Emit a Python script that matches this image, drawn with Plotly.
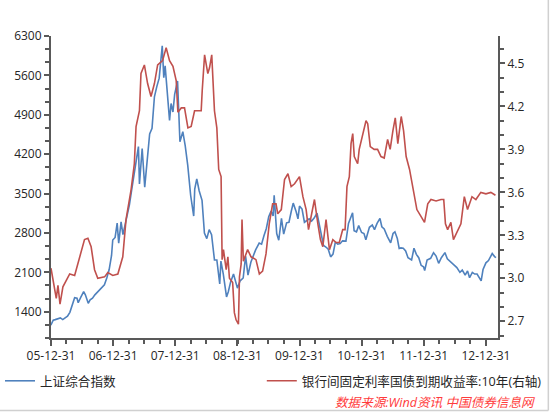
import plotly.graph_objects as go

# 上证综合指数 (left axis)
sh_dates = ['2005-12-30', '2006-01-13', '2006-01-25', '2006-02-10', '2006-02-24', '2006-03-10',
            '2006-03-24', '2006-04-07', '2006-04-21', '2006-05-12', '2006-05-19', '2006-06-02',
            '2006-06-09', '2006-06-23', '2006-07-11', '2006-07-21', '2006-08-07', '2006-08-18',
            '2006-09-01', '2006-09-15', '2006-09-29', '2006-10-13', '2006-10-27', '2006-11-10',
            '2006-11-24', '2006-12-08', '2006-12-22', '2006-12-29', '2007-01-12', '2007-01-24',
            '2007-02-02', '2007-02-16', '2007-02-27', '2007-03-09', '2007-03-23', '2007-04-06',
            '2007-04-20', '2007-05-09', '2007-05-29', '2007-06-04', '2007-06-20', '2007-07-05',
            '2007-07-20', '2007-08-03', '2007-08-17', '2007-08-31', '2007-09-14', '2007-09-28',
            '2007-10-16', '2007-10-25', '2007-11-02', '2007-11-16', '2007-11-28', '2007-12-07',
            '2007-12-18', '2007-12-28', '2008-01-14', '2008-01-28', '2008-02-14', '2008-02-28',
            '2008-03-14', '2008-03-31', '2008-04-18', '2008-04-24', '2008-05-06', '2008-05-20',
            '2008-06-06', '2008-06-20', '2008-07-04', '2008-07-18', '2008-08-01', '2008-08-18',
            '2008-09-01', '2008-09-18', '2008-09-25', '2008-10-09', '2008-10-28', '2008-11-07',
            '2008-11-21', '2008-12-08', '2008-12-23', '2008-12-31', '2009-01-16', '2009-02-03',
            '2009-02-17', '2009-03-03', '2009-03-20', '2009-04-03', '2009-04-17', '2009-05-08',
            '2009-05-22', '2009-06-05', '2009-06-19', '2009-07-03', '2009-07-17', '2009-07-29',
            '2009-08-04', '2009-08-19', '2009-08-31', '2009-09-16', '2009-09-29', '2009-10-16',
            '2009-10-30', '2009-11-13', '2009-11-24', '2009-12-11', '2009-12-22', '2009-12-31',
            '2010-01-15', '2010-01-29', '2010-02-12', '2010-02-26', '2010-03-12', '2010-03-26',
            '2010-04-13', '2010-04-27', '2010-05-14', '2010-05-21', '2010-06-04', '2010-06-18',
            '2010-07-02', '2010-07-16', '2010-07-30', '2010-08-13', '2010-08-27', '2010-09-10',
            '2010-09-30', '2010-10-15', '2010-11-08', '2010-11-17', '2010-12-01', '2010-12-14',
            '2010-12-31', '2011-01-14', '2011-01-25', '2011-02-15', '2011-03-04', '2011-03-17',
            '2011-04-01', '2011-04-18', '2011-04-29', '2011-05-13', '2011-05-31', '2011-06-20',
            '2011-07-04', '2011-07-15', '2011-07-29', '2011-08-09', '2011-08-19', '2011-09-02',
            '2011-09-16', '2011-09-30', '2011-10-21', '2011-11-04', '2011-11-18', '2011-12-02',
            '2011-12-16', '2011-12-30', '2012-01-06', '2012-01-20', '2012-02-10', '2012-02-27',
            '2012-03-13', '2012-03-28', '2012-04-13', '2012-05-04', '2012-05-18', '2012-06-08',
            '2012-06-29', '2012-07-13', '2012-07-31', '2012-08-14', '2012-08-31', '2012-09-14',
            '2012-09-26', '2012-10-12', '2012-10-26', '2012-11-09', '2012-11-27', '2012-12-03',
            '2012-12-14', '2012-12-31', '2013-01-15', '2013-01-31', '2013-02-06', '2013-02-20',
            '2013-02-28']
sh_index = [1161, 1250, 1260, 1280, 1290, 1260,
            1290, 1320, 1390, 1580, 1650, 1640,
            1560, 1650, 1757, 1700, 1550, 1610,
            1640, 1700, 1750, 1790, 1840, 1880,
            2000, 2150, 2400, 2675, 2720, 2975,
            2620, 2998, 2770, 2900, 3100, 3300,
            3580, 3960, 4335, 3670, 4300, 3615,
            4060, 4560, 4660, 5220, 5400, 5550,
            6124, 5560, 5770, 5300, 4800, 5100,
            4950, 5262, 5500, 4420, 4600, 4350,
            4000, 3470, 3100, 3580, 3760, 3550,
            3380, 2800, 2700, 2860, 2770, 2320,
            2320, 1895, 2300, 2070, 1664, 1750,
            1930, 2070, 1900, 1820, 1950, 2000,
            2390, 2050, 2280, 2410, 2500, 2620,
            2600, 2750, 2880, 3090, 3190, 3100,
            3470, 2790, 2670, 3060, 2780, 2980,
            2990, 3190, 3330, 3180, 3050, 3277,
            3225, 2990, 3020, 3050, 3010, 3060,
            3150, 2960, 2700, 2580, 2550, 2510,
            2375, 2425, 2640, 2600, 2610, 2660,
            2655, 2970, 3160, 2840, 2820, 2930,
            2808, 2790, 2680, 2900, 2940, 2860,
            2970, 3060, 2910, 2870, 2740, 2625,
            2790, 2820, 2700, 2525, 2535, 2530,
            2480, 2360, 2320, 2528, 2420, 2360,
            2225, 2199, 2132, 2320, 2350, 2450,
            2390, 2260, 2360, 2450, 2340, 2290,
            2225, 2185, 2100, 2140, 2050, 2125,
            2004, 2100, 2070, 2070, 1975, 1949,
            2150, 2269, 2310, 2385, 2434, 2380,
            2360]

# 银行间固定利率国债到期收益率:10年 (right axis)
bond_dates = ['2005-12-31', '2006-01-12', '2006-01-31', '2006-02-10', '2006-02-22', '2006-03-11',
              '2006-03-29', '2006-04-20', '2006-05-19', '2006-06-17', '2006-07-16', '2006-08-05',
              '2006-08-24', '2006-09-13', '2006-10-02', '2006-11-11', '2006-11-30', '2006-12-29',
              '2007-01-28', '2007-02-26', '2007-03-17', '2007-04-16', '2007-05-05', '2007-05-15',
              '2007-06-04', '2007-06-13', '2007-07-03', '2007-07-22', '2007-08-11', '2007-08-31',
              '2007-09-19', '2007-10-18', '2007-11-08', '2007-11-28', '2007-12-18', '2008-01-06',
              '2008-01-16', '2008-02-05', '2008-02-24', '2008-03-15', '2008-04-03', '2008-04-23',
              '2008-06-01', '2008-06-07', '2008-06-21', '2008-07-10', '2008-07-20', '2008-08-02',
              '2008-08-08', '2008-08-18', '2008-09-01', '2008-09-12', '2008-09-26', '2008-10-02',
              '2008-10-10', '2008-10-26', '2008-11-05', '2008-11-14', '2008-12-03', '2008-12-13',
              '2008-12-23', '2009-01-06', '2009-01-12', '2009-01-22', '2009-01-27', '2009-02-04',
              '2009-03-01', '2009-03-21', '2009-04-19', '2009-05-09', '2009-05-28', '2009-06-17',
              '2009-07-06', '2009-07-26', '2009-08-15', '2009-08-25', '2009-09-15', '2009-10-04',
              '2009-10-24', '2009-11-12', '2009-12-02', '2009-12-31', '2010-01-20', '2010-02-08',
              '2010-02-22', '2010-03-10', '2010-03-29', '2010-04-18', '2010-05-03', '2010-05-17',
              '2010-06-05', '2010-06-25', '2010-07-15', '2010-08-03', '2010-08-22', '2010-09-11',
              '2010-09-25', '2010-10-06', '2010-10-20', '2010-10-30', '2010-11-09', '2010-11-18',
              '2010-12-08', '2010-12-17', '2011-01-06', '2011-01-26', '2011-02-05', '2011-02-20',
              '2011-03-15', '2011-04-04', '2011-04-24', '2011-05-13', '2011-06-02', '2011-06-17',
              '2011-07-03', '2011-07-17', '2011-08-01', '2011-08-21', '2011-09-04', '2011-09-19',
              '2011-10-09', '2011-10-28', '2011-11-07', '2011-11-21', '2011-12-16', '2012-01-05',
              '2012-01-24', '2012-02-12', '2012-03-13', '2012-04-11', '2012-04-27', '2012-05-07',
              '2012-05-20', '2012-06-08', '2012-06-23', '2012-07-08', '2012-08-06', '2012-08-26',
              '2012-09-14', '2012-10-10', '2012-11-02', '2012-12-01', '2012-12-31', '2013-01-29',
              '2013-02-25']
bond_yield = [3.07, 2.98, 2.86, 2.95, 2.82, 2.94,
              2.98, 3.03, 3.02, 3.15, 3.27, 3.28,
              3.22, 3.06, 3.00, 3.01, 3.04, 3.02,
              3.03, 3.15, 3.41, 3.62, 3.80, 4.06,
              4.17, 4.43, 4.49, 4.36, 4.27, 4.36,
              4.49, 4.52, 4.61, 4.52, 4.48, 4.38,
              4.16, 4.19, 4.19, 4.05, 4.06, 4.17,
              4.17, 4.31, 4.56, 4.43, 4.47, 4.56,
              4.43, 4.17, 4.05, 3.76, 3.71, 3.13,
              3.20, 3.06, 3.15, 3.00, 2.97, 2.76,
              2.71, 2.68, 3.01, 3.10, 3.41, 3.12,
              3.20, 3.15, 3.13, 3.03, 3.05, 3.17,
              3.38, 3.52, 3.52, 3.45, 3.48, 3.69,
              3.73, 3.64, 3.66, 3.71, 3.57, 3.48,
              3.34, 3.43, 3.55, 3.38, 3.27, 3.22,
              3.41, 3.20, 3.27, 3.25, 3.25, 3.34,
              3.34, 3.64, 3.71, 3.94, 4.01, 3.85,
              3.80, 3.90, 4.01, 4.10, 4.08, 3.92,
              3.90, 3.90, 3.85, 3.84, 3.97, 3.90,
              4.03, 4.12, 3.94, 4.13, 4.03, 3.85,
              3.76, 3.64, 3.57, 3.48, 3.43, 3.39,
              3.52, 3.55, 3.54, 3.55, 3.55, 3.38,
              3.34, 3.39, 3.27, 3.31, 3.38, 3.57,
              3.48, 3.57, 3.55, 3.60, 3.59, 3.60,
              3.58]

year_ticks = ['2005-12-31', '2006-12-31', '2007-12-31', '2008-12-31',
              '2009-12-31', '2010-12-31', '2011-12-31', '2012-12-31']

axis_col = '#595959'
txt_col = '#262626'

fig = go.Figure()
fig.add_trace(go.Scatter(x=sh_dates, y=sh_index, name='上证综合指数',
                         mode='lines', line=dict(color='#4F81BD', width=1.6),
                         legend='legend'))
fig.add_trace(go.Scatter(x=bond_dates, y=bond_yield, name='银行间固定利率国债到期收益率:10年(右轴)',
                         mode='lines', line=dict(color='#C0504D', width=1.6),
                         yaxis='y2', legend='legend2'))

fig.update_layout(
    width=550, height=412,
    margin=dict(l=51, r=52, t=36, b=74, autoexpand=False),
    plot_bgcolor='white',
    paper_bgcolor='white',
    font=dict(family='Open Sans, Noto Sans CJK SC, sans-serif', size=12, color=txt_col),
    xaxis=dict(
        type='date',
        range=['2005-12-31', '2013-03-12'],
        tickvals=year_ticks,
        tickformat='%y-%m-%d',
        showgrid=False, zeroline=False, automargin=False,
        showline=True, linecolor=axis_col, linewidth=2,
        ticks='outside', ticklen=6, tickwidth=1.5, tickcolor=axis_col,
        minor=dict(dtick='M3', tick0='2006-01-01', ticks='outside', ticklen=4,
                   tickwidth=1.5, tickcolor=axis_col, showgrid=False),
        tickfont=dict(size=12, color=txt_col)
    ),
    yaxis=dict(
        range=[933.33, 6300],
        tick0=0, dtick=700,
        showgrid=False, zeroline=False, automargin=False,
        showline=True, linecolor=axis_col, linewidth=2,
        ticks='outside', ticklen=5, tickwidth=1.5, tickcolor=axis_col,
        minor=dict(dtick=700 / 3, tick0=0, ticks='outside', ticklen=4,
                   tickwidth=1.5, tickcolor=axis_col, showgrid=False),
        tickfont=dict(size=12, color=txt_col)
    ),
    yaxis2=dict(
        overlaying='y', side='right',
        range=[2.583, 4.692],
        tick0=0, dtick=0.3, tickformat='.1f',
        showgrid=False, zeroline=False, automargin=False,
        showline=True, linecolor=axis_col, linewidth=2,
        ticks='outside', ticklen=5, tickwidth=1.5, tickcolor=axis_col,
        minor=dict(dtick=0.1, tick0=0, ticks='outside', ticklen=4,
                   tickwidth=1.5, tickcolor=axis_col, showgrid=False),
        tickfont=dict(size=12, color=txt_col)
    ),
    legend=dict(xref='container', yref='container', x=-0.008, y=0.075,
                xanchor='left', yanchor='middle',
                orientation='h', bgcolor='rgba(0,0,0,0)',
                font=dict(size=12.6, color=txt_col)),
    legend2=dict(xref='container', yref='container', x=0.476, y=0.075,
                 xanchor='left', yanchor='middle',
                 orientation='h', bgcolor='rgba(0,0,0,0)',
                 font=dict(size=12.6, color=txt_col)),
    showlegend=True
)

fig.add_annotation(text='<i>数据来源:Wind资讯 中国债券信息网</i>',
                   xref='paper', yref='paper', x=1.087, y=-0.214,
                   xanchor='right', yanchor='middle', showarrow=False,
                   font=dict(size=12.6, color='#FF3B3B'))

# thin grey frame at the right and bottom edges of the picture
fig.add_shape(type='line', xref='paper', yref='paper', x0=1.1126, x1=1.1126, y0=-0.24, y1=1.12,
              line=dict(color='#D0D0D0', width=1.5))
fig.add_shape(type='line', xref='paper', yref='paper', x0=-0.12, x1=1.1126, y0=-0.24, y1=-0.24,
              line=dict(color='#D0D0D0', width=1.5))

# page has a default 8px body margin; drop it so the figure sits at the top-left corner
fig.write_html('out.html', config={'displayModeBar': False},
               post_script="document.body.style.margin='0';")
